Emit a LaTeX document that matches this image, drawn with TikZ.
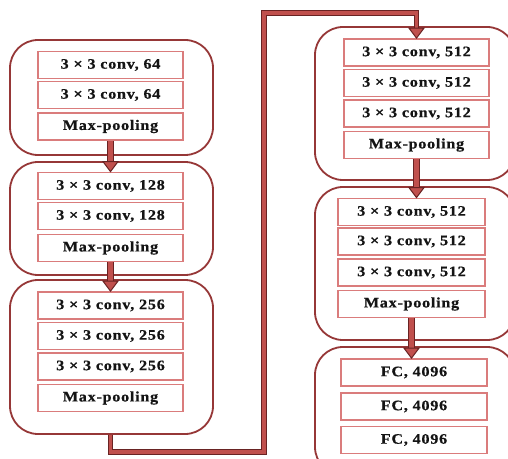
\documentclass[tikz,border=0pt]{standalone}
\usepackage{fontspec}
\newfontfamily\lblfont{Liberation Serif}[FakeStretch=1.12,LetterSpace=5,FakeBold=0.6]
\usetikzlibrary{calc}
\definecolor{outerred}{RGB}{150,55,55}
\definecolor{innerred}{RGB}{218,124,124}
\definecolor{arrred}{RGB}{192,80,77}
\definecolor{arrdark}{RGB}{105,35,35}
\definecolor{txt}{RGB}{20,20,20}
\begin{document}
\begin{tikzpicture}[x=1bp,y=-1bp,
  outerbox/.style={draw=outerred,line width=1.8bp,rounded corners=28bp,inner sep=0pt},
  layer/.style={draw=innerred,line width=1.8bp,fill=white,inner sep=0pt,minimum height=27bp,
    text=txt,font=\lblfont\bfseries\fontsize{14.5}{16}\selectfont},
  shaft/.style={draw=arrdark,line width=1.1bp,double=arrred,double distance=4.6bp},
  wire/.style={draw=arrdark,line width=1.1bp,double=arrred,double distance=3.6bp,line join=miter},
  head/.style={fill=arrred,draw=arrdark,line width=1bp,line join=miter}
]
\useasboundingbox (0,0) rectangle (508,459);
\clip (0,0) rectangle (508,459);
\fill[white] (0,0) rectangle (508,459);

% outer blocks
\node[outerbox,minimum width=203bp,minimum height=115bp] (b1) at (111.5,97.5) {};
\node[outerbox,minimum width=203bp,minimum height=113bp] (b2) at (111.5,218.5) {};
\node[outerbox,minimum width=203bp,minimum height=154bp] (b3) at (111.5,357) {};
\node[outerbox,minimum width=200bp,minimum height=153bp] (b4) at (415,103.5) {};
\node[outerbox,minimum width=200bp,minimum height=153bp] (b5) at (415,263.5) {};
\node[outerbox,minimum width=200bp,minimum height=128bp] (b6) at (415,411) {};

% block 1
\node[layer,minimum width=145bp] (b1a) at (110.5,65) {3 × 3 conv, 64};
\node[layer,minimum width=145bp] (b1b) at (110.5,95) {3 × 3 conv, 64};
\node[layer,minimum width=145bp] (b1m) at (110.5,126.5) {Max-pooling};
% block 2
\node[layer,minimum width=145bp] (b2a) at (110.5,186) {3 × 3 conv, 128};
\node[layer,minimum width=145bp] (b2b) at (110.5,216) {3 × 3 conv, 128};
\node[layer,minimum width=145bp] (b2m) at (110.5,248) {Max-pooling};
% block 3
\node[layer,minimum width=145bp] (b3a) at (110.5,305.5) {3 × 3 conv, 256};
\node[layer,minimum width=145bp] (b3b) at (110.5,336) {3 × 3 conv, 256};
\node[layer,minimum width=145bp] (b3c) at (110.5,366.5) {3 × 3 conv, 256};
\node[layer,minimum width=145bp] (b3m) at (110.5,398) {Max-pooling};
% block 4
\node[layer,minimum width=145bp] (b4a) at (416.5,52.5) {3 × 3 conv, 512};
\node[layer,minimum width=145bp] (b4b) at (416.5,83) {3 × 3 conv, 512};
\node[layer,minimum width=145bp] (b4c) at (416.5,113.5) {3 × 3 conv, 512};
\node[layer,minimum width=145bp] (b4m) at (416.5,145) {Max-pooling};
% block 5
\node[layer,minimum width=147bp] (b5a) at (411.5,212) {3 × 3 conv, 512};
\node[layer,minimum width=147bp] (b5b) at (411.5,241.5) {3 × 3 conv, 512};
\node[layer,minimum width=147bp] (b5c) at (411.5,272.5) {3 × 3 conv, 512};
\node[layer,minimum width=147bp] (b5m) at (411.5,304) {Max-pooling};
% block 6
\node[layer,minimum width=146bp] (b6a) at (414,372.5) {FC, 4096};
\node[layer,minimum width=146bp] (b6b) at (414,406.5) {FC, 4096};
\node[layer,minimum width=146bp] (b6c) at (414,440) {FC, 4096};

% block arrows
\draw[shaft] (b1m.south) -- ($(b1m.south |- b2a.north)+(0,-5)$);
\filldraw[head] ($(b1m.south |- b2a.north)+(-7.5,-10)$) -- ($(b1m.south |- b2a.north)+(7.5,-10)$) -- (b1m.south |- b2a.north) -- cycle;
\draw[shaft] (b2m.south) -- ($(b2m.south |- b3a.north)+(0,-5)$);
\filldraw[head] ($(b2m.south |- b3a.north)+(-7.5,-10)$) -- ($(b2m.south |- b3a.north)+(7.5,-10)$) -- (b2m.south |- b3a.north) -- cycle;
\draw[shaft] (b4m.south) -- ($(b4m.south |- b5a.north)+(0,-5)$);
\filldraw[head] ($(b4m.south |- b5a.north)+(-7.5,-10)$) -- ($(b4m.south |- b5a.north)+(7.5,-10)$) -- (b4m.south |- b5a.north) -- cycle;
\draw[shaft] (b5m.south) -- ($(b5m.south |- b6a.north)+(0,-5)$);
\filldraw[head] ($(b5m.south |- b6a.north)+(-7.5,-10)$) -- ($(b5m.south |- b6a.north)+(7.5,-10)$) -- (b5m.south |- b6a.north) -- cycle;

% long connector
\coordinate (c1) at (110.5,452);
\coordinate (c2) at (264,452);
\coordinate (c3) at (264,13);
\coordinate (c4) at (b4a.north |- c3);
\draw[wire] (b3m.south |- b3.south) -- (c1) -- (c2) -- (c3) -- (c4) -- ($(b4a.north)+(0,-5)$);
\filldraw[head] ($(b4a.north)+(-7.5,-10)$) -- ($(b4a.north)+(7.5,-10)$) -- (b4a.north) -- cycle;
\end{tikzpicture}
\end{document}
